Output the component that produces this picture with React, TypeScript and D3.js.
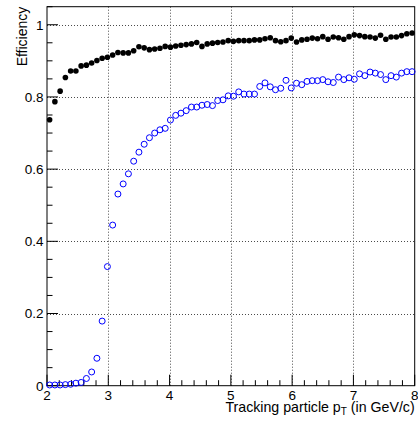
import React from "react";
import * as d3 from "d3";

const X_MIN = 2;
const X_MAX = 8;
const N_BINS = 70;

const effAll: number[] = [
  0.737, 0.787, 0.816, 0.854, 0.872, 0.872, 0.886, 0.888, 0.894, 0.901,
  0.907, 0.910, 0.916, 0.923, 0.922, 0.922, 0.928, 0.939, 0.936, 0.931,
  0.933, 0.935, 0.940, 0.938, 0.941, 0.943, 0.945, 0.947, 0.951, 0.940,
  0.947, 0.949, 0.951, 0.952, 0.956, 0.954, 0.956, 0.956, 0.956, 0.958,
  0.958, 0.961, 0.964, 0.956, 0.953, 0.956, 0.963, 0.952, 0.958, 0.960,
  0.963, 0.961, 0.967, 0.960, 0.966, 0.964, 0.960, 0.967, 0.972, 0.970,
  0.967, 0.966, 0.963, 0.971, 0.960, 0.966, 0.966, 0.970, 0.975, 0.977,
];

const effTrig: number[] = [
  0.002, 0.002, 0.002, 0.003, 0.004, 0.007, 0.009, 0.020, 0.038, 0.076,
  0.179, 0.330, 0.445, 0.531, 0.559, 0.587, 0.622, 0.647, 0.669, 0.687,
  0.700, 0.709, 0.713, 0.736, 0.749, 0.755, 0.762, 0.772, 0.772, 0.777,
  0.779, 0.776, 0.790, 0.792, 0.803, 0.802, 0.814, 0.808, 0.808, 0.808,
  0.829, 0.839, 0.828, 0.820, 0.824, 0.846, 0.825, 0.838, 0.834, 0.843,
  0.845, 0.845, 0.848, 0.842, 0.840, 0.855, 0.848, 0.853, 0.849, 0.864,
  0.859, 0.869, 0.866, 0.862, 0.848, 0.859, 0.855, 0.866, 0.870, 0.870,
];

const xTickLabels = ["2", "3", "4", "5", "6", "7", "8"];
const yTickLabels = ["0", "0.2", "0.4", "0.6", "0.8", "1"];

const X_TITLE = "Tracking particle p";
const X_TITLE_SUB = "T";
const X_TITLE_END = " (in GeV/c)";
const Y_TITLE = "Efficiency";

export default function App() {
  const W = 418;
  const H = 422;
  const left = 47;
  const right = 414.7;
  const top = 6.7;
  const bottom = 385.7;
  const font = "'Liberation Sans', Arial, Helvetica, sans-serif";

  const x = d3.scaleLinear().domain([X_MIN, X_MAX]).range([left, right]);
  const y = d3.scaleLinear().domain([0, 1.05]).range([bottom, top]);

  const binW = (X_MAX - X_MIN) / N_BINS;
  const centers = d3.range(N_BINS).map((i) => X_MIN + (i + 0.5) * binW);

  const xMajor = xTickLabels.map(Number);
  const yMajor = yTickLabels.map(Number);
  const xMinor = d3.range(X_MIN, X_MAX + 1e-9, 0.2).filter(
    (v) => Math.abs(v - Math.round(v)) > 1e-6
  );
  const yMinor = d3.range(0, 1.05 + 1e-9, 0.05).filter(
    (v) => Math.abs(v * 5 - Math.round(v * 5)) > 1e-6
  );

  const majLen = 11;
  const minLen = 5.5;

  return (
    <svg
      width={W}
      height={H}
      style={{ position: "absolute", left: 0, top: 0, background: "#fff" }}
      fontFamily={font}
    >
      <rect x={0} y={0} width={W} height={H} fill="#fff" />
      {/* grid */}
      <g stroke="#000" strokeWidth={1} strokeDasharray="1 2" opacity={0.7}>
        {xMajor
          .filter((v) => v > X_MIN && v < X_MAX)
          .map((v) => (
            <line key={"gx" + v} x1={Math.round(x(v)) + 0.5} x2={Math.round(x(v)) + 0.5} y1={top} y2={bottom} />
          ))}
        {yMajor
          .filter((v) => v > 0)
          .map((v) => (
            <line key={"gy" + v} x1={left} x2={right} y1={Math.round(y(v)) + 0.5} y2={Math.round(y(v)) + 0.5} />
          ))}
      </g>
      {/* frame */}
      <rect x={left} y={top} width={right - left} height={bottom - top} fill="none" stroke="#000" strokeWidth={1} />
      {/* ticks */}
      <g stroke="#000" strokeWidth={1}>
        {xMajor.map((v) => (
          <line key={"xt" + v} x1={x(v)} x2={x(v)} y1={bottom} y2={bottom - majLen} />
        ))}
        {xMinor.map((v) => (
          <line key={"xm" + v} x1={x(v)} x2={x(v)} y1={bottom} y2={bottom - minLen} />
        ))}
        {yMajor.map((v) => (
          <line key={"yt" + v} x1={left} x2={left + majLen} y1={y(v)} y2={y(v)} />
        ))}
        {yMinor.map((v) => (
          <line key={"ym" + v} x1={left} x2={left + minLen} y1={y(v)} y2={y(v)} />
        ))}
      </g>
      {/* tick labels */}
      <g fontSize={13.5} fill="#000">
        {xTickLabels.map((t) => (
          <text key={"xl" + t} x={x(Number(t))} y={399.5} textAnchor="middle">
            {t}
          </text>
        ))}
        {yTickLabels.map((t) => (
          <text key={"yl" + t} x={43.5} y={y(Number(t))} dy="0.36em" textAnchor="end">
            {t}
          </text>
        ))}
      </g>
      {/* axis titles */}
      <text x={right} y={412} fontSize={14.2} textAnchor="end" fill="#000">
        {X_TITLE}
        <tspan fontSize={10} dy={3}>{X_TITLE_SUB}</tspan>
        <tspan dy={-3}>{X_TITLE_END}</tspan>
      </text>
      <text
        transform={`translate(26.7, ${top}) rotate(-90)`}
        fontSize={14}
        textAnchor="end"
        fill="#000"
      >
        {Y_TITLE}
      </text>
      {/* data */}
      <g>
        {effAll.map((v, i) => (
          <circle key={"a" + i} cx={x(centers[i])} cy={y(v)} r={2.8} fill="#000" />
        ))}
      </g>
      <g>
        {effTrig.map((v, i) => (
          <circle key={"b" + i} cx={x(centers[i])} cy={y(v)} r={3} fill="none" stroke="#0000ff" strokeWidth={1} />
        ))}
      </g>
    </svg>
  );
}
